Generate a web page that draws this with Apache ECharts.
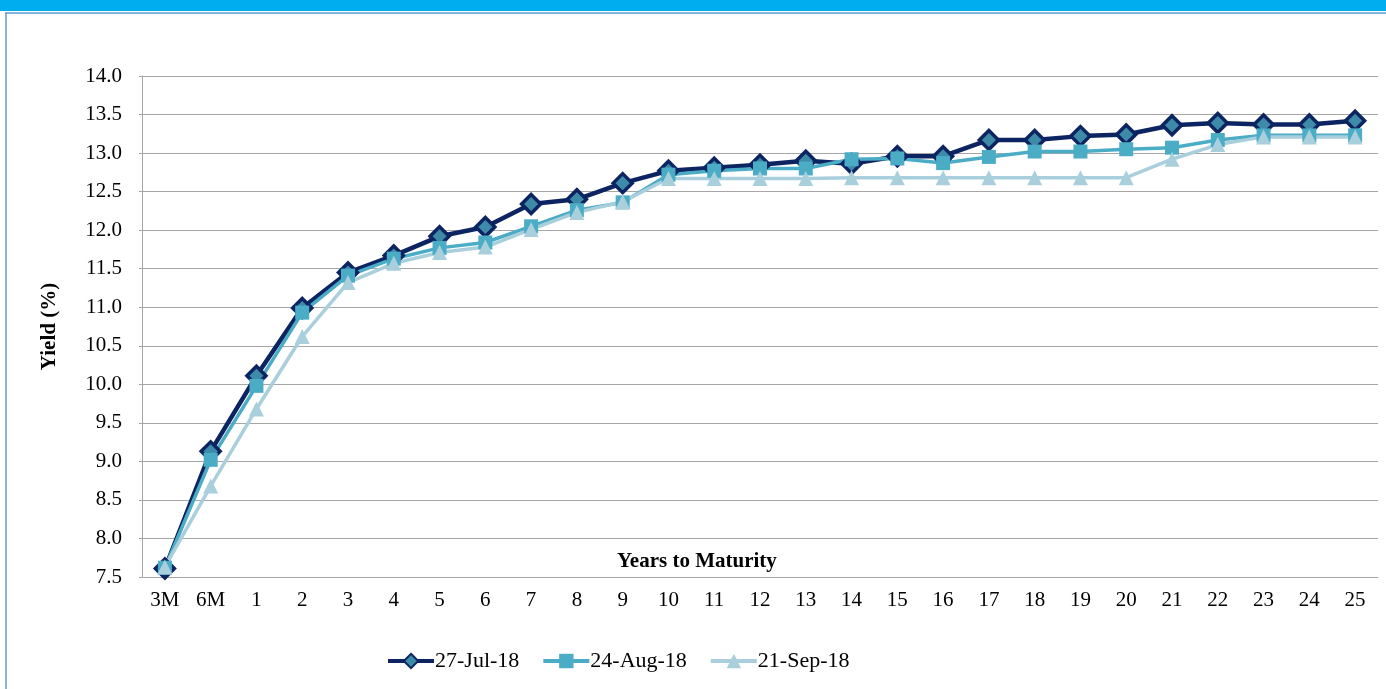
<!DOCTYPE html>
<html>
<head>
<meta charset="utf-8">
<script src="https://cdn.jsdelivr.net/npm/echarts@6/dist/echarts.min.js"></script>
<style>
  html, body { margin: 0; padding: 0; background: #fff; }
  #chart { width: 1386px; height: 689px; }
</style>
</head>
<body>
<div id="chart"></div>
<script>
// tenors on the x axis
var maturities = ['3M', '6M', '1', '2', '3', '4', '5', '6', '7', '8', '9', '10', '11', '12', '13',
                  '14', '15', '16', '17', '18', '19', '20', '21', '22', '23', '24', '25'];

// yield curves (%)
var jul27 = [7.61, 9.13, 10.11, 10.99, 11.45, 11.67, 11.92, 12.04, 12.34, 12.40, 12.61, 12.77, 12.81,
             12.85, 12.90, 12.86, 12.96, 12.96, 13.17, 13.17, 13.22, 13.24, 13.36, 13.39, 13.37, 13.37, 13.42];
var aug24 = [7.62, 9.02, 9.98, 10.93, 11.41, 11.63, 11.77, 11.84, 12.05, 12.26, 12.36, 12.72, 12.77,
             12.80, 12.80, 12.92, 12.93, 12.87, 12.95, 13.02, 13.02, 13.05, 13.07, 13.17, 13.23, 13.23, 13.23];
var sep21 = [7.63, 8.68, 9.68, 10.62, 11.32, 11.57, 11.71, 11.78, 12.01, 12.23, 12.37, 12.67, 12.67,
             12.67, 12.67, 12.68, 12.68, 12.68, 12.68, 12.68, 12.68, 12.68, 12.92, 13.11, 13.21, 13.21, 13.21];

var seriesNames = ['27-Jul-18', '24-Aug-18', '21-Sep-18'];

var serif = '"Liberation Serif", "Times New Roman", serif';

var chart = echarts.init(document.getElementById('chart'));

chart.setOption({
    animation: false,
    textStyle: { fontFamily: serif },
    graphic: [
        { type: 'rect', shape: { x: 0, y: 0, width: 1386, height: 11 }, style: { fill: '#00aeef' } },
        { type: 'line', shape: { x1: 5, y1: 13, x2: 1386, y2: 13 }, style: { stroke: '#5b9bd5', lineWidth: 1.5 } },
        { type: 'line', shape: { x1: 6, y1: 13, x2: 6, y2: 689 }, style: { stroke: '#5b9bd5', lineWidth: 1.5 } }
    ],
    title: {
        text: 'Years to Maturity',
        left: 612,
        top: 546,
        textStyle: { fontFamily: serif, fontSize: 21, fontWeight: 'bold', color: '#000' }
    },
    legend: {
        left: 381,
        top: 645,
        itemWidth: 46,
        itemHeight: 18,
        itemGap: 22,
        lineStyle: { width: 4 },
        textStyle: { fontFamily: serif, fontSize: 22, color: '#000', padding: [0, 0, 0, -4] },
        data: seriesNames
    },
    grid: { left: 142, right: 8, top: 76, bottom: 112 },
    xAxis: {
        type: 'category',
        data: maturities,
        boundaryGap: true,
        axisLine: { lineStyle: { color: '#a6a6a6', width: 1 } },
        axisTick: { show: false },
        axisLabel: { color: '#000', fontSize: 21, fontFamily: serif, margin: 13 }
    },
    yAxis: {
        type: 'value',
        min: 7.5,
        max: 14,
        interval: 0.5,
        name: 'Yield (%)',
        nameLocation: 'middle',
        nameGap: 82,
        nameTextStyle: { fontFamily: serif, fontSize: 21, fontWeight: 'bold', color: '#000' },
        axisLine: { show: true, lineStyle: { color: '#a6a6a6' } },
        axisTick: { show: true, length: 3, lineStyle: { color: '#a6a6a6' } },
        axisLabel: {
            color: '#000', fontSize: 21, fontFamily: serif, margin: 20,
            formatter: function (v) { return v.toFixed(1); }
        },
        splitLine: { lineStyle: { color: '#a6a6a6', width: 1 } }
    },
    series: [
        {
            name: seriesNames[0],
            type: 'line',
            data: jul27,
            symbol: 'diamond',
            symbolSize: 19,
            lineStyle: { color: '#0c2461', width: 4.5 },
            itemStyle: { color: '#3d8ba8', borderColor: '#0c2461', borderWidth: 3.5 }
        },
        {
            name: seriesNames[1],
            type: 'line',
            data: aug24,
            symbol: 'rect',
            symbolSize: 14,
            lineStyle: { color: '#4bacc6', width: 3.5 },
            itemStyle: { color: '#4bacc6' }
        },
        {
            name: seriesNames[2],
            type: 'line',
            data: sep21,
            symbol: 'triangle',
            symbolSize: 15,
            lineStyle: { color: '#a9cfdd', width: 3.5 },
            itemStyle: { color: '#a9cfdd' }
        }
    ]
});
</script>
</body>
</html>
